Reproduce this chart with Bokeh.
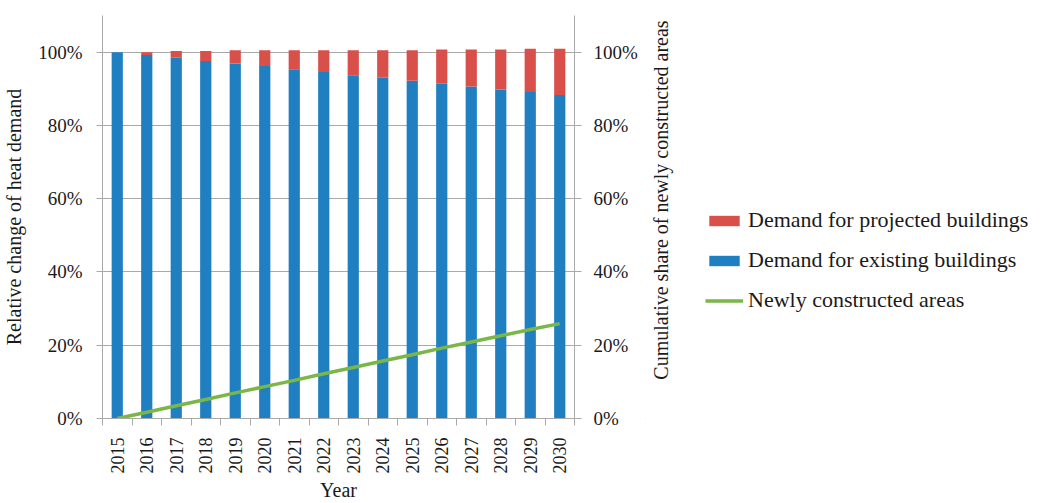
import math
from bokeh.plotting import figure
from bokeh.layouts import row
from bokeh.models import (ColumnDataSource, Range1d, LinearAxis, FixedTicker,
                          NumeralTickFormatter, Legend, LegendItem)
from bokeh.core.properties import value
from bokeh.embed import file_html
from bokeh.resources import INLINE

# Data
years = ["2015", "2016", "2017", "2018", "2019", "2020", "2021", "2022",
         "2023", "2024", "2025", "2026", "2027", "2028", "2029", "2030"]
existing = [1.000, 0.992, 0.985, 0.976, 0.969, 0.962, 0.953, 0.946,
            0.937, 0.930, 0.922, 0.914, 0.906, 0.898, 0.891, 0.883]
projected = [0.000, 0.008, 0.018, 0.027, 0.036, 0.043, 0.052, 0.059,
             0.068, 0.075, 0.083, 0.093, 0.101, 0.109, 0.118, 0.126]
new_area = [0.000, 0.017, 0.035, 0.052, 0.070, 0.087, 0.104, 0.122,
            0.139, 0.157, 0.174, 0.192, 0.209, 0.226, 0.243, 0.259]
pct_ticks = [0.0, 0.2, 0.4, 0.6, 0.8, 1.0]
series_labels = ["Demand for projected buildings",
                 "Demand for existing buildings",
                 "Newly constructed areas"]
right_title = "Cumulative share of newly constructed areas"

FONT = "Liberation Serif"
TXT = "#1a1a1a"
GRID = "#a9a9a9"
BLUE = "#1f7fc1"
RED = "#d9504b"
GREEN = "#7ab648"

centers = [i + 0.5 for i in range(len(years))]
bounds = [float(i) for i in range(len(years) + 1)]

src = ColumnDataSource(dict(x=centers, existing=existing,
                            projected=projected, new_area=new_area))

# ---- main chart ----
p = figure(width=645, height=503, output_backend="svg", toolbar_location=None,
           x_range=Range1d(0, len(years)), y_range=Range1d(0, 1.1),
           min_border_left=100, min_border_right=71,
           min_border_top=15, min_border_bottom=84)
p.extra_y_ranges = {"share": Range1d(0, 1.1)}
p.outline_line_color = None

bars = p.vbar_stack(["existing", "projected"], x="x", width=0.38,
                    color=[BLUE, RED], line_color=None, source=src)
line = p.line(x="x", y="new_area", source=src, line_width=3.5,
              line_color=GREEN, y_range_name="share")

# x axis: year labels at bar centres, tick marks between categories
xa = p.xaxis[0]
xa.ticker = FixedTicker(ticks=centers, minor_ticks=bounds)
xa.major_label_overrides = {c: y for c, y in zip(centers, years)}
xa.major_label_orientation = math.pi / 2
xa.major_tick_out = 0
xa.major_tick_in = 0
xa.minor_tick_out = 7
xa.minor_tick_in = 0
xa.minor_tick_line_color = GRID
xa.major_label_standoff = 12
xa.axis_label = "Year"
xa.axis_label_standoff = 2

# left axis
ya = p.yaxis[0]
ya.ticker = FixedTicker(ticks=pct_ticks)
ya.formatter = NumeralTickFormatter(format="0%")
ya.major_tick_out = 6
ya.major_tick_in = 0
ya.minor_tick_line_color = None
ya.major_label_standoff = 14
ya.axis_label = "Relative change of heat demand"
ya.axis_label_standoff = 10

# right axis (its title is drawn in the side panel)
ra = LinearAxis(y_range_name="share", ticker=FixedTicker(ticks=pct_ticks),
                formatter=NumeralTickFormatter(format="0%"))
ra.major_tick_out = 7
ra.major_tick_in = 0
ra.minor_tick_line_color = None
ra.major_label_standoff = 12
p.add_layout(ra, "right")

for ax in (xa, ya, ra):
    ax.axis_line_color = GRID
    ax.major_tick_line_color = GRID if ax is not xa else None
    ax.major_label_text_font = FONT
    ax.major_label_text_font_size = "19px" if ax is not xa else "18px"
    ax.major_label_text_color = TXT
    ax.axis_label_text_font = FONT
    ax.axis_label_text_font_size = "20px"
    ax.axis_label_text_font_style = "normal"
    ax.axis_label_text_color = TXT

p.xgrid.grid_line_color = None
p.ygrid.ticker = FixedTicker(ticks=pct_ticks)
p.ygrid.grid_line_color = GRID
p.ygrid.grid_line_width = 1

# ---- side panel: right axis title and legend ----
# The row aligns this panel's frame with the chart frame (404 px tall),
# so one y unit equals one pixel, measured up from the chart's baseline.
W2, H2 = 412, 404
s = figure(width=W2, height=503, output_backend="svg", toolbar_location=None,
           x_range=Range1d(0, W2), y_range=Range1d(0, H2),
           x_axis_location=None, y_axis_location=None, min_border=0)
s.outline_line_color = None
s.grid.visible = False

s.text(x=[15], y=[219], text=[right_title], angle=math.pi / 2,
       text_align="center", text_baseline="middle",
       text_font=value(FONT), text_font_size="20px", text_color=TXT)

# legend swatches use glyphs placed outside the visible panel
proxy = ColumnDataSource(dict(x=[-500.0], top=[-500.0]))
r_proj = s.vbar(x="x", top="top", width=1, source=proxy, color=RED, line_color=None)
r_exist = s.vbar(x="x", top="top", width=1, source=proxy, color=BLUE, line_color=None)
r_line = s.line(x="x", y="top", source=proxy, line_width=3.5, line_color=GREEN)

legend = Legend(items=[
    LegendItem(label=series_labels[0], renderers=[r_proj]),
    LegendItem(label=series_labels[1], renderers=[r_exist]),
    LegendItem(label=series_labels[2], renderers=[r_line]),
], location=(60, 105))
legend.label_text_font = FONT
legend.label_text_font_size = "22px"
legend.label_text_color = TXT
legend.glyph_width = 38
legend.glyph_height = 13
legend.label_height = 25
legend.spacing = 14
legend.label_standoff = 5
legend.padding = 0
legend.margin = 0
legend.border_line_color = None
legend.background_fill_alpha = 0
s.add_layout(legend)

open("out.html", "w").write(file_html(row(p, s, spacing=0), INLINE))
